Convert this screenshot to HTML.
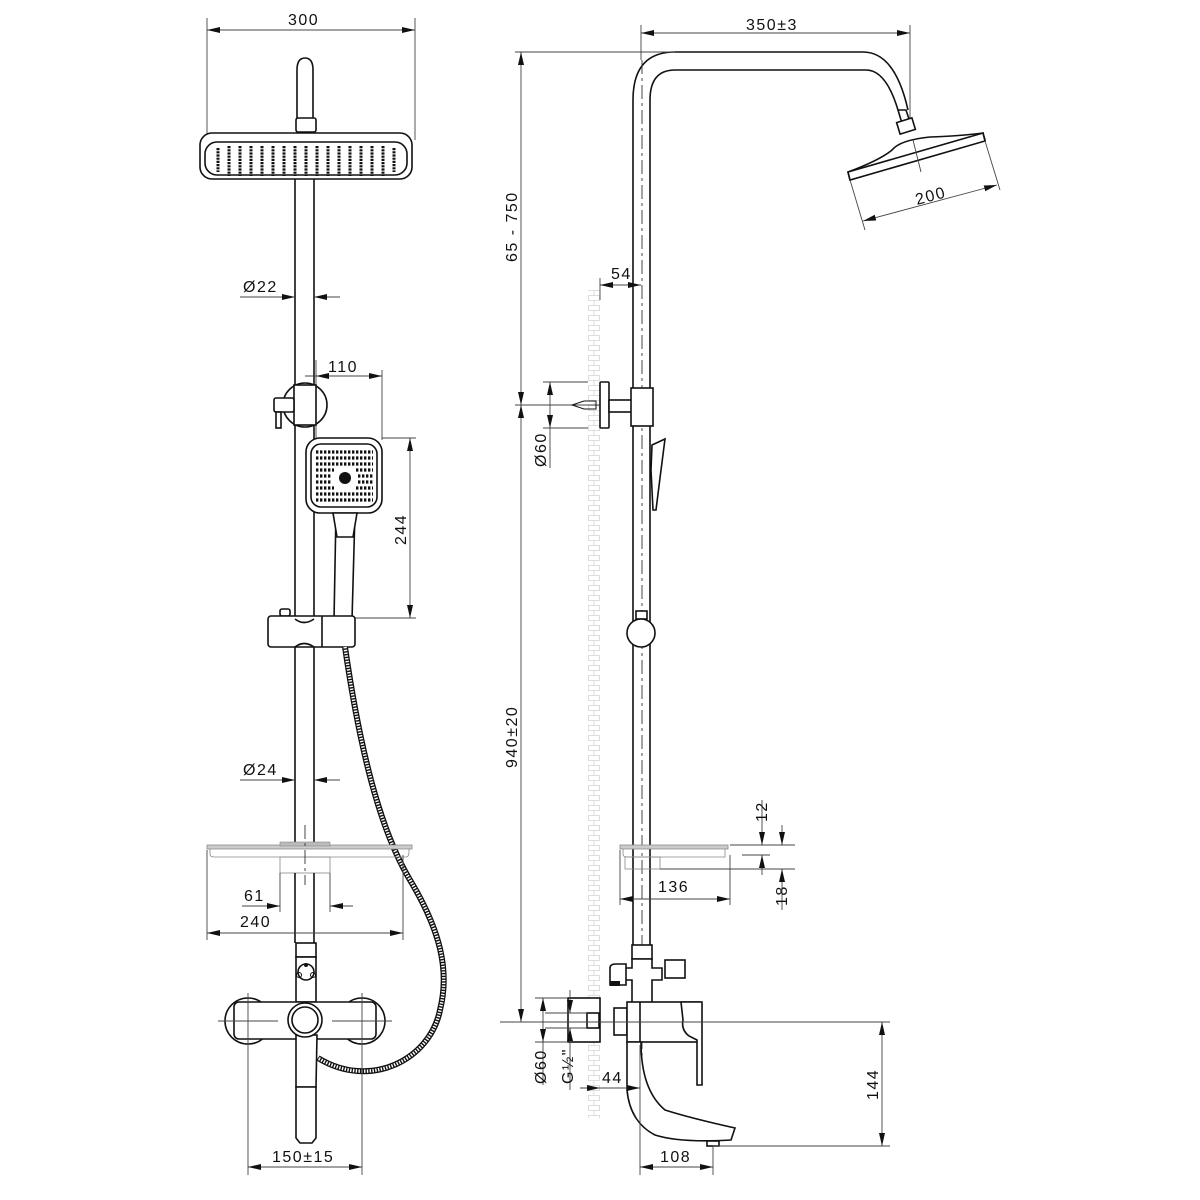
<!DOCTYPE html>
<html><head><meta charset="utf-8"><style>
html,body{margin:0;padding:0;background:#fff}
svg{display:block}
text{font-family:"Liberation Sans",sans-serif;font-size:16px;fill:#111;letter-spacing:1.5px}
.o{fill:none;stroke:#111;stroke-width:1.6}
.of{fill:#fff;stroke:#111;stroke-width:1.6}
.d{fill:none;stroke:#444;stroke-width:0.9}
.c{fill:none;stroke:#333;stroke-width:0.9;stroke-dasharray:14 4 3 4}
</style></head><body>
<svg width="1200" height="1200" viewBox="0 0 1200 1200" xmlns="http://www.w3.org/2000/svg">
<defs>
<marker id="a" markerUnits="userSpaceOnUse" markerWidth="13" markerHeight="6" viewBox="0 0 13 6" refX="13" refY="3" orient="auto-start-reverse"><path d="M0,0 L13,3 L0,6z" fill="#111"/></marker>
<pattern id="brick" width="12" height="10" patternUnits="userSpaceOnUse"><rect width="12" height="10" fill="#fff"/><path d="M0,0.5H12 M0,5.5H12 M6,0.5V5.5 M0.5,5.5V10 M11.5,5.5V10" stroke="#d4d4d4" stroke-width="0.8" fill="none"/></pattern>
</defs>

<!-- ================= LEFT VIEW ================= -->
<line class="d" x1="207" y1="18" x2="207" y2="140"/>
<line class="d" x1="415" y1="18" x2="415" y2="140"/>
<line class="d" x1="207" y1="30" x2="415" y2="30" marker-start="url(#a)" marker-end="url(#a)"/>
<text x="288" y="25">300</text>
<path class="o" d="M297,118 V70 Q297,58 305,58 Q313,58 313,70 V118"/>
<rect class="of" x="296" y="118" width="20" height="14" rx="2"/>
<rect class="of" x="200" y="133" width="212" height="46" rx="12"/>
<rect class="o" x="205" y="142" width="202" height="33" rx="12"/>
<g stroke="#111" stroke-width="3" stroke-dasharray="2.2 1">
<line x1="218" y1="148" x2="218" y2="172"/><line x1="229" y1="146" x2="229" y2="176"/><line x1="240" y1="146" x2="240" y2="176"/><line x1="251" y1="146" x2="251" y2="176"/><line x1="262" y1="146" x2="262" y2="176"/><line x1="273" y1="146" x2="273" y2="176"/><line x1="284" y1="146" x2="284" y2="176"/><line x1="295" y1="146" x2="295" y2="176"/><line x1="306" y1="146" x2="306" y2="176"/><line x1="317" y1="146" x2="317" y2="176"/><line x1="328" y1="146" x2="328" y2="176"/><line x1="339" y1="146" x2="339" y2="176"/><line x1="350" y1="146" x2="350" y2="176"/><line x1="361" y1="146" x2="361" y2="176"/><line x1="372" y1="146" x2="372" y2="176"/><line x1="383" y1="146" x2="383" y2="176"/><line x1="394" y1="148" x2="394" y2="172"/>
</g>
<line class="o" x1="295" y1="179" x2="295" y2="845"/>
<line class="o" x1="314" y1="179" x2="314" y2="845"/>
<line class="d" x1="240" y1="297" x2="295" y2="297" marker-end="url(#a)"/>
<line class="d" x1="314" y1="297" x2="340" y2="297"/>
<path d="M327,294 L314,297 L327,300z" fill="#111"/>
<text x="243" y="292">Ø22</text>
<line class="d" x1="316" y1="360" x2="316" y2="440"/>
<line class="d" x1="382" y1="370" x2="382" y2="440"/>
<line class="d" x1="305" y1="376" x2="382" y2="376" marker-end="url(#a)"/>
<path d="M329,373 L316,376 L329,379z" fill="#111"/>
<text x="328" y="372">110</text>
<circle class="of" cx="305" cy="405" r="22"/>
<rect class="of" x="294" y="385" width="22" height="40"/>
<rect class="of" x="274" y="398" width="20" height="14" rx="2"/>
<rect class="of" x="276" y="412" width="5" height="16"/>
<path class="of" d="M336,512 L355,512 L352,620 L334,620z"/>
<rect class="of" x="306" y="438" width="76" height="75" rx="14"/>
<rect class="o" x="311" y="444" width="66" height="63" rx="10"/>
<path class="of" d="M333,513 L357,513 L353,537 L337,537z"/>
<circle cx="345" cy="478" r="6" fill="#111"/>
<g fill="none" stroke="#111" stroke-width="3.2" stroke-dasharray="2.4 1.6">
<line x1="316" y1="452" x2="373" y2="452"/><line x1="316" y1="458" x2="373" y2="458"/><line x1="316" y1="464" x2="373" y2="464"/><line x1="316" y1="470" x2="334" y2="470"/><line x1="356" y1="470" x2="373" y2="470"/><line x1="316" y1="476" x2="332" y2="476"/><line x1="358" y1="476" x2="373" y2="476"/><line x1="316" y1="482" x2="332" y2="482"/><line x1="358" y1="482" x2="373" y2="482"/><line x1="316" y1="488" x2="334" y2="488"/><line x1="356" y1="488" x2="373" y2="488"/><line x1="316" y1="494" x2="373" y2="494"/><line x1="316" y1="500" x2="373" y2="500"/>
</g>
<line class="d" x1="382" y1="438" x2="416" y2="438"/>
<line class="d" x1="355" y1="618" x2="416" y2="618"/>
<line class="d" x1="410" y1="438" x2="410" y2="618" marker-start="url(#a)" marker-end="url(#a)"/>
<text transform="translate(406,545) rotate(-90)">244</text>
<rect class="of" x="280" y="609" width="10" height="7" rx="2"/>
<rect class="of" x="268" y="616" width="87" height="31" rx="3"/>
<line class="o" x1="322" y1="616" x2="322" y2="647"/>
<path class="o" d="M295,619 Q304,626 314,619 M295,647 Q304,640 314,647"/>
<path d="M345,647 C360,750 380,830 410,880 C440,930 450,970 440,1010 C430,1060 370,1090 318,1058" fill="none" stroke="#111" stroke-width="6"/>
<path d="M345,647 C360,750 380,830 410,880 C440,930 450,970 440,1010 C430,1060 370,1090 318,1058" fill="none" stroke="#fff" stroke-width="3.4" stroke-dasharray="1.4 1.4"/>
<line class="d" x1="240" y1="780" x2="295" y2="780" marker-end="url(#a)"/>
<line class="d" x1="314" y1="780" x2="340" y2="780"/>
<path d="M327,777 L314,780 L327,783z" fill="#111"/>
<text x="243" y="775">Ø24</text>
<path d="M207,845 H412 V849 H207z" fill="#ccc" stroke="#888" stroke-width="0.8"/>
<rect x="280" y="842" width="50" height="4" fill="#bbb" stroke="#888" stroke-width="0.6"/>
<path d="M210,849 V854 Q210,857 214,857 H406 Q409,857 409,852 V849" fill="none" stroke="#888" stroke-width="0.8"/>
<rect x="280" y="857" width="50" height="16" fill="none" stroke="#888" stroke-width="0.8"/>
<line class="o" x1="295" y1="873" x2="295" y2="943"/>
<line class="o" x1="314" y1="873" x2="314" y2="943"/>
<line class="c" x1="305" y1="825" x2="305" y2="885"/>
<line class="d" x1="280" y1="873" x2="280" y2="912"/>
<line class="d" x1="330" y1="873" x2="330" y2="912"/>
<line class="d" x1="242" y1="906" x2="280" y2="906" marker-end="url(#a)"/>
<line class="d" x1="353" y1="906" x2="330" y2="906" marker-end="url(#a)"/>
<text x="244" y="901">61</text>
<line class="d" x1="207" y1="850" x2="207" y2="940"/>
<line class="d" x1="403" y1="855" x2="403" y2="940"/>
<line class="d" x1="207" y1="933" x2="403" y2="933" marker-start="url(#a)" marker-end="url(#a)"/>
<text x="240" y="927">240</text>
<rect class="of" x="296" y="943" width="20" height="14"/>
<rect class="of" x="296" y="957" width="20" height="45"/>
<circle class="o" cx="306" cy="972" r="8"/>
<circle cx="306" cy="965" r="2" fill="#111"/><circle cx="299" cy="975" r="2.5" fill="none" stroke="#111"/><circle cx="313" cy="975" r="2.5" fill="none" stroke="#111"/>
<circle class="of" cx="248" cy="1021" r="23"/>
<circle class="of" cx="362" cy="1021" r="23"/>
<rect class="of" x="234" y="1002" width="142" height="37" rx="5"/>
<line class="d" x1="218" y1="1021" x2="278" y2="1021"/>
<line class="d" x1="332" y1="1021" x2="392" y2="1021"/>
<path class="of" d="M296,1035 L317,1035 L316,1087 L296,1087z"/>
<path class="of" d="M296,1087 L316,1087 L316,1138 L312,1143 L300,1143 L296,1138z"/>
<circle class="of" cx="305" cy="1020" r="17"/>
<circle class="o" cx="305" cy="1020" r="13"/>
<line class="d" x1="248" y1="993" x2="248" y2="1175"/>
<line class="d" x1="362" y1="993" x2="362" y2="1175"/>
<line class="d" x1="248" y1="1167" x2="362" y2="1167" marker-start="url(#a)" marker-end="url(#a)"/>
<text x="272" y="1162">150±15</text>

<!-- ================= RIGHT VIEW ================= -->
<rect x="588" y="290" width="12" height="828" fill="url(#brick)"/>
<line class="d" x1="641" y1="25" x2="641" y2="60"/>
<line class="d" x1="910" y1="25" x2="910" y2="125"/>
<line class="d" x1="641" y1="33" x2="910" y2="33" marker-start="url(#a)" marker-end="url(#a)"/>
<text x="746" y="30">350±3</text>
<path class="o" d="M633,945 V100 Q633,52 675,52 H863 Q895,52 908,110"/>
<path class="o" d="M650,945 V100 Q650,70 675,70 H866 Q886,70 898,110"/>
<line class="c" x1="642" y1="60" x2="642" y2="1110"/>
<path class="of" d="M898,110 L906,110 L912,128 L904,130z"/>
<rect class="of" x="898" y="120" width="16" height="12" transform="rotate(-17 906 126)"/>
<path class="of" d="M848,172 Q880,160 892,150 Q900,140 930,137 Q960,136 983,133 L985,140 L850,180z"/>
<path class="of" d="M848,172 L983,133 L985,141 L850,180z"/>
<line class="d" x1="913" y1="140" x2="921" y2="172"/>
<line class="d" x1="850" y1="180" x2="865" y2="230"/>
<line class="d" x1="985" y1="141" x2="1000" y2="190"/>
<line class="d" x1="863" y1="221" x2="997" y2="185" marker-start="url(#a)" marker-end="url(#a)"/>
<text transform="translate(917,205) rotate(-15)">200</text>
<line class="d" x1="515" y1="52" x2="675" y2="52"/>
<line class="d" x1="521" y1="52" x2="521" y2="405" marker-start="url(#a)"/>
<line class="d" x1="521" y1="405" x2="521" y2="1022" marker-end="url(#a)"/>
<path d="M518,392 L521,405 L524,392z M518,418 L521,405 L524,418z" fill="#111"/>
<line class="d" x1="515" y1="405" x2="612" y2="405"/>
<text transform="translate(517,262) rotate(-90)">65 - 750</text>
<text transform="translate(517,768) rotate(-90)">940±20</text>
<line class="d" x1="600" y1="278" x2="600" y2="300"/>
<line class="d" x1="600" y1="285" x2="641" y2="285" marker-start="url(#a)" marker-end="url(#a)"/>
<text x="611" y="279">54</text>
<line class="d" x1="543" y1="382" x2="588" y2="382"/>
<line class="d" x1="543" y1="428" x2="588" y2="428"/>
<line class="d" x1="550" y1="382" x2="550" y2="468" marker-start="url(#a)"/>
<path d="M547,415 L550,428 L553,415z" fill="#111"/>
<text transform="translate(546,467) rotate(-90)">Ø60</text>
<path d="M572,405 L584,401 L596,401 L596,409 L584,409z" fill="none" stroke="#111" stroke-width="1"/>
<rect class="of" x="600" y="382" width="9" height="46" rx="1"/>
<rect class="of" x="609" y="400" width="25" height="12"/>
<rect class="of" x="631" y="388" width="22" height="38"/>
<path class="of" d="M652,445 L665,439 L660,478 L656,510 L653,510 L651,470z"/>
<rect class="of" x="636" y="611" width="11" height="8"/>
<circle class="of" cx="641" cy="633" r="14"/>
<path d="M620,845 H728 V849 H620z" fill="#ccc" stroke="#888" stroke-width="0.8"/>
<path d="M623,849 V854 Q623,857 627,857 H725 V849" fill="none" stroke="#888" stroke-width="0.8"/>
<rect x="625" y="857" width="35" height="12" fill="none" stroke="#888" stroke-width="0.8"/>
<line class="d" x1="620" y1="850" x2="620" y2="905"/>
<line class="d" x1="730" y1="855" x2="730" y2="905"/>
<line class="d" x1="620" y1="899" x2="730" y2="899" marker-start="url(#a)" marker-end="url(#a)"/>
<text x="658" y="892">136</text>
<line class="d" x1="730" y1="845" x2="795" y2="845"/>
<line class="d" x1="742" y1="855" x2="770" y2="855"/>
<line class="d" x1="660" y1="869" x2="795" y2="869"/>
<line class="d" x1="762" y1="800" x2="762" y2="845" marker-end="url(#a)"/>
<line class="d" x1="762" y1="875" x2="762" y2="855" marker-end="url(#a)"/>
<line class="d" x1="782" y1="825" x2="782" y2="845" marker-end="url(#a)"/>
<line class="d" x1="782" y1="910" x2="782" y2="869" marker-end="url(#a)"/>
<text transform="translate(767,822) rotate(-90)">12</text>
<text transform="translate(787,906) rotate(-90)">18</text>
<rect class="of" x="632" y="945" width="20" height="14"/>
<path class="of" d="M632,959 H652 V968 H662 V980 H652 V1003 H632 V980 H625 V968 H632z"/>
<path class="of" d="M610,968 Q610,964 616,964 H626 V985 H610z"/>
<rect x="610" y="981" width="10" height="5" fill="#111"/>
<rect class="of" x="665" y="960" width="20" height="18"/>
<rect class="of" x="568" y="998" width="32" height="44"/>
<rect class="of" x="587" y="1013" width="12" height="15"/>
<rect class="of" x="614" y="1008" width="13" height="27"/>
<rect class="of" x="627" y="1002" width="73" height="40"/>
<line class="o" x1="640" y1="1002" x2="640" y2="1042"/>
<path class="of" d="M681,1002 H702 V1085 H697 V1040 L689,1036 Q681,1030 683,1020z"/>
<line class="d" x1="500" y1="1022" x2="890" y2="1022"/>
<path class="of" d="M627,1042 L641,1042 Q641,1090 665,1110 Q690,1118 735,1128 L731,1140 Q680,1143 655,1135 Q630,1122 627,1090z"/>
<rect class="of" x="707" y="1141" width="12" height="5"/>
<line class="d" x1="713" y1="1146" x2="890" y2="1146"/>
<line class="d" x1="882" y1="1022" x2="882" y2="1146" marker-start="url(#a)" marker-end="url(#a)"/>
<text transform="translate(878,1100) rotate(-90)">144</text>
<line class="d" x1="580" y1="1088" x2="600" y2="1088" marker-end="url(#a)"/>
<line class="d" x1="640" y1="1045" x2="640" y2="1175"/>
<line class="d" x1="640" y1="1088" x2="600" y2="1088"/>
<path d="M627,1085 L640,1088 L627,1091z" fill="#111"/>
<text x="602" y="1083">44</text>
<line class="d" x1="535" y1="998" x2="568" y2="998"/>
<line class="d" x1="535" y1="1042" x2="568" y2="1042"/>
<line class="d" x1="545" y1="1013" x2="587" y2="1013"/>
<line class="d" x1="545" y1="1028" x2="587" y2="1028"/>
<line class="d" x1="543" y1="998" x2="543" y2="1085" marker-start="url(#a)"/>
<path d="M540,1029 L543,1042 L546,1029z" fill="#111"/>
<line class="d" x1="570" y1="990" x2="570" y2="1013" marker-end="url(#a)"/>
<line class="d" x1="570" y1="1090" x2="570" y2="1028" marker-end="url(#a)"/>
<text transform="translate(546,1084) rotate(-90)">Ø60</text>
<text transform="translate(573,1084) rotate(-90)">G½"</text>
<line class="d" x1="713" y1="1146" x2="713" y2="1175"/>
<line class="d" x1="640" y1="1167" x2="713" y2="1167" marker-start="url(#a)" marker-end="url(#a)"/>
<text x="660" y="1162">108</text>
</svg>
</body></html>
